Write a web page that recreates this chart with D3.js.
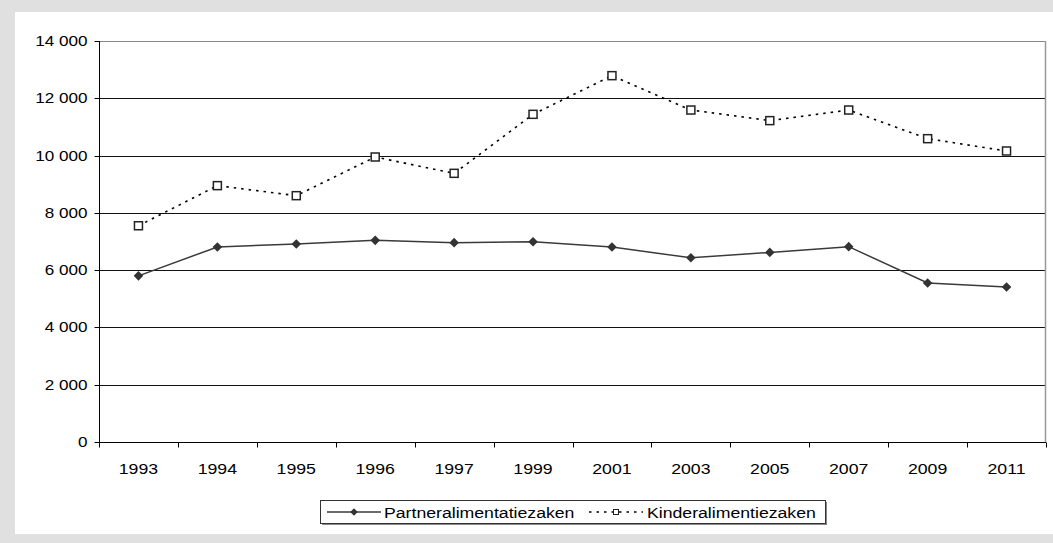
<!DOCTYPE html>
<html>
<head>
<meta charset="utf-8">
<script src="https://cdn.jsdelivr.net/npm/d3@7"></script>
<style>
  body { margin: 0; background: #e0e0e0; }
  svg { display: block; }
  text { font-family: "Liberation Sans", Arial, sans-serif; fill: #000; }
</style>
</head>
<body>
<svg id="chart" width="1053" height="543"></svg>
<script>
const years = ["1993", "1994", "1995", "1996", "1997", "1999", "2001", "2003", "2005", "2007", "2009", "2011"];
const partner = [5800, 6810, 6910, 7040, 6960, 6990, 6810, 6430, 6620, 6820, 5550, 5410];
const kinder = [7550, 8950, 8600, 9950, 9380, 11440, 12790, 11590, 11220, 11590, 10590, 10160];
const yTicks = [0, 2000, 4000, 6000, 8000, 10000, 12000, 14000];
const seriesNames = ["Partneralimentatiezaken", "Kinderalimentiezaken"];

const width = 1053;
const height = 543;
const margin = { top: 41, right: 7, bottom: 101, left: 99 };
const stretch = 1.18;

const svg = d3.select("#chart");

// white panel
svg.append("rect")
  .attr("x", 15).attr("y", 12)
  .attr("width", width - 15).attr("height", 522)
  .attr("fill", "#fff");

const x = d3.scaleBand()
  .domain(years)
  .range([margin.left, width - margin.right]);

const y = d3.scaleLinear()
  .domain([0, 14000])
  .range([height - margin.bottom, margin.top]);

const fmt = (d) => d3.format(",")(d).replace(",", " ");

// gridlines
svg.append("g")
  .selectAll("line")
  .data(yTicks.filter((d) => d > 0))
  .join("line")
  .attr("x1", margin.left).attr("x2", width - margin.right)
  .attr("y1", (d) => Math.round(y(d)) + 0.5).attr("y2", (d) => Math.round(y(d)) + 0.5)
  .attr("stroke", (d) => d === 14000 ? "#888" : "#111")
  .attr("stroke-width", 1);

// right border
svg.append("line")
  .attr("x1", width - margin.right - 0.5).attr("x2", width - margin.right - 0.5)
  .attr("y1", y(14000)).attr("y2", y(0))
  .attr("stroke", "#999").attr("stroke-width", 1.5);

// y axis
const yaxis = svg.append("g")
  .attr("transform", `translate(${margin.left + 0.5},0)`);
yaxis.append("line")
  .attr("y1", y(14000)).attr("y2", y(0) + 5)
  .attr("stroke", "#000");
yaxis.selectAll("line.tick")
  .data(yTicks)
  .join("line")
  .attr("class", "tick")
  .attr("x1", -5).attr("x2", 0)
  .attr("y1", (d) => Math.round(y(d)) + 0.5).attr("y2", (d) => Math.round(y(d)) + 0.5)
  .attr("stroke", "#000");
yaxis.selectAll("text")
  .data(yTicks)
  .join("text")
  .attr("transform", (d) => `translate(-12,${y(d) + 5}) scale(${stretch},1)`)
  .attr("text-anchor", "end")
  .attr("font-size", 14.5)
  .text(fmt);

// x axis
const xaxis = svg.append("g")
  .attr("transform", `translate(0,${Math.round(y(0)) + 0.5})`);
xaxis.append("line")
  .attr("x1", margin.left).attr("x2", width - margin.right)
  .attr("stroke", "#000");
xaxis.selectAll("line.tick")
  .data(years.concat(["end"]))
  .join("line")
  .attr("class", "tick")
  .attr("x1", (d, i) => Math.round(margin.left + i * x.bandwidth()) + 0.5)
  .attr("x2", (d, i) => Math.round(margin.left + i * x.bandwidth()) + 0.5)
  .attr("y1", 0).attr("y2", 5)
  .attr("stroke", "#000");
xaxis.selectAll("text")
  .data(years)
  .join("text")
  .attr("transform", (d) => `translate(${x(d) + x.bandwidth() / 2},31.5) scale(${stretch},1)`)
  .attr("text-anchor", "middle")
  .attr("font-size", 15)
  .text((d) => d);

const cx = (d, i) => x(years[i]) + x.bandwidth() / 2;

const line = d3.line()
  .x((d, i) => cx(d, i))
  .y((d) => y(d));

// kinder series
svg.append("path")
  .datum(kinder)
  .attr("d", line)
  .attr("fill", "none")
  .attr("stroke", "#000")
  .attr("stroke-width", 1.6)
  .attr("stroke-dasharray", "2.5,5");

// partner series
svg.append("path")
  .datum(partner)
  .attr("d", line)
  .attr("fill", "none")
  .attr("stroke", "#3a3a3a")
  .attr("stroke-width", 1.5);

const diamond = d3.symbol().type(d3.symbolSquare).size(46);

svg.append("g")
  .selectAll("path")
  .data(partner)
  .join("path")
  .attr("d", diamond)
  .attr("transform", (d, i) => `translate(${cx(d, i)},${y(d)}) rotate(45)`)
  .attr("fill", "#333");

svg.append("g")
  .selectAll("rect")
  .data(kinder)
  .join("rect")
  .attr("x", (d, i) => cx(d, i) - 4)
  .attr("y", (d) => y(d) - 4)
  .attr("width", 8).attr("height", 8)
  .attr("fill", "#fff")
  .attr("stroke", "#222")
  .attr("stroke-width", 1.5);

// legend
const legend = svg.append("g");
legend.append("rect")
  .attr("x", 322).attr("y", 502)
  .attr("width", 505).attr("height", 23)
  .attr("fill", "#888");
legend.append("rect")
  .attr("x", 320.5).attr("y", 500.5)
  .attr("width", 505).attr("height", 23)
  .attr("fill", "#fff")
  .attr("stroke", "#333");

legend.append("line")
  .attr("x1", 327).attr("x2", 381)
  .attr("y1", 512).attr("y2", 512)
  .attr("stroke", "#3a3a3a").attr("stroke-width", 1.5);
legend.append("path")
  .attr("d", d3.symbol().type(d3.symbolSquare).size(28))
  .attr("transform", "translate(354,512) rotate(45)")
  .attr("fill", "#333");
legend.append("text")
  .attr("transform", `translate(384,518) scale(1.14,1)`)
  .attr("font-size", 15.5)
  .text(seriesNames[0]);

legend.append("line")
  .attr("x1", 589).attr("x2", 643)
  .attr("y1", 512).attr("y2", 512)
  .attr("stroke", "#000").attr("stroke-width", 1.5)
  .attr("stroke-dasharray", "2.5,5");
legend.append("rect")
  .attr("x", 613.5).attr("y", 509.5)
  .attr("width", 5).attr("height", 5)
  .attr("fill", "#fff").attr("stroke", "#222");
legend.append("text")
  .attr("transform", `translate(647,518) scale(1.14,1)`)
  .attr("font-size", 15.5)
  .text(seriesNames[1]);
</script>
</body>
</html>
